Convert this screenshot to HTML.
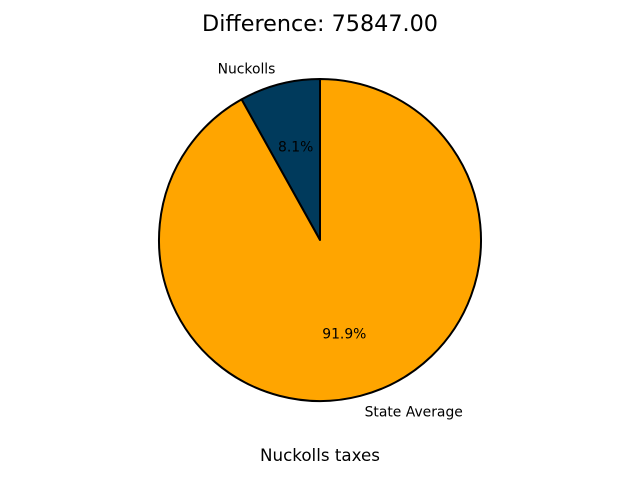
<!DOCTYPE html>
<html><head><meta charset="utf-8"><style>
body{margin:0;background:#fff;}
svg{display:block;font-family:"DejaVu Sans","Liberation Sans",sans-serif;}
</style></head><body>
<svg id="chart" width="640" height="480">
<text x="320" y="31" text-anchor="middle" font-size="22.3">Difference: 75847.00</text>
<text x="320" y="461" text-anchor="middle" font-size="16.7">Nuckolls taxes</text>
<g id="slices"></g>
</svg>
<script>
const categories = ["Nuckolls", "State Average"];
const values = [7331, 83178];
const colors = ["#003a5c", "#ffa500"];
const cx = 320, cy = 240, r = 161;
const g = document.getElementById('slices');
const ns = 'http://www.w3.org/2000/svg';
const total = values.reduce((a, b) => a + b, 0);
let start = 90;
function pt(angDeg, rad) {
  const a = angDeg * Math.PI / 180;
  return [cx + rad * Math.cos(a), cy - rad * Math.sin(a)];
}
values.forEach((v, i) => {
  const frac = v / total;
  const end = start + frac * 360;
  const [x1, y1] = pt(start, r), [x2, y2] = pt(end, r);
  const large = frac > 0.5 ? 1 : 0;
  const p = document.createElementNS(ns, 'path');
  p.setAttribute('d', `M${cx},${cy} L${x1},${y1} A${r},${r} 0 ${large} 0 ${x2},${y2} Z`);
  p.setAttribute('fill', colors[i]);
  p.setAttribute('stroke', '#000');
  p.setAttribute('stroke-width', '2');
  p.setAttribute('stroke-linejoin', 'round');
  
  
  g.appendChild(p);
  const mid = (start + end) / 2;
  const [lx, ly] = pt(mid, r * 1.1);
  const t = document.createElementNS(ns, 'text');
  t.setAttribute('x', lx);
  t.setAttribute('y', ly + 5);
  t.setAttribute('font-size', '13.9');
  t.setAttribute('text-anchor', Math.cos(mid * Math.PI / 180) < 0 ? 'end' : 'start');
  t.textContent = categories[i];
  
  
  g.appendChild(t);
  const [px, py] = pt(mid, r * 0.6);
  const pt2 = document.createElementNS(ns, 'text');
  pt2.setAttribute('x', px);
  pt2.setAttribute('y', py + 5);
  pt2.setAttribute('font-size', '13.9');
  pt2.setAttribute('text-anchor', 'middle');
  pt2.textContent = (frac * 100).toFixed(1) + '%';
  
  
  g.appendChild(pt2);
  start = end;
});
</script>
</body></html>
